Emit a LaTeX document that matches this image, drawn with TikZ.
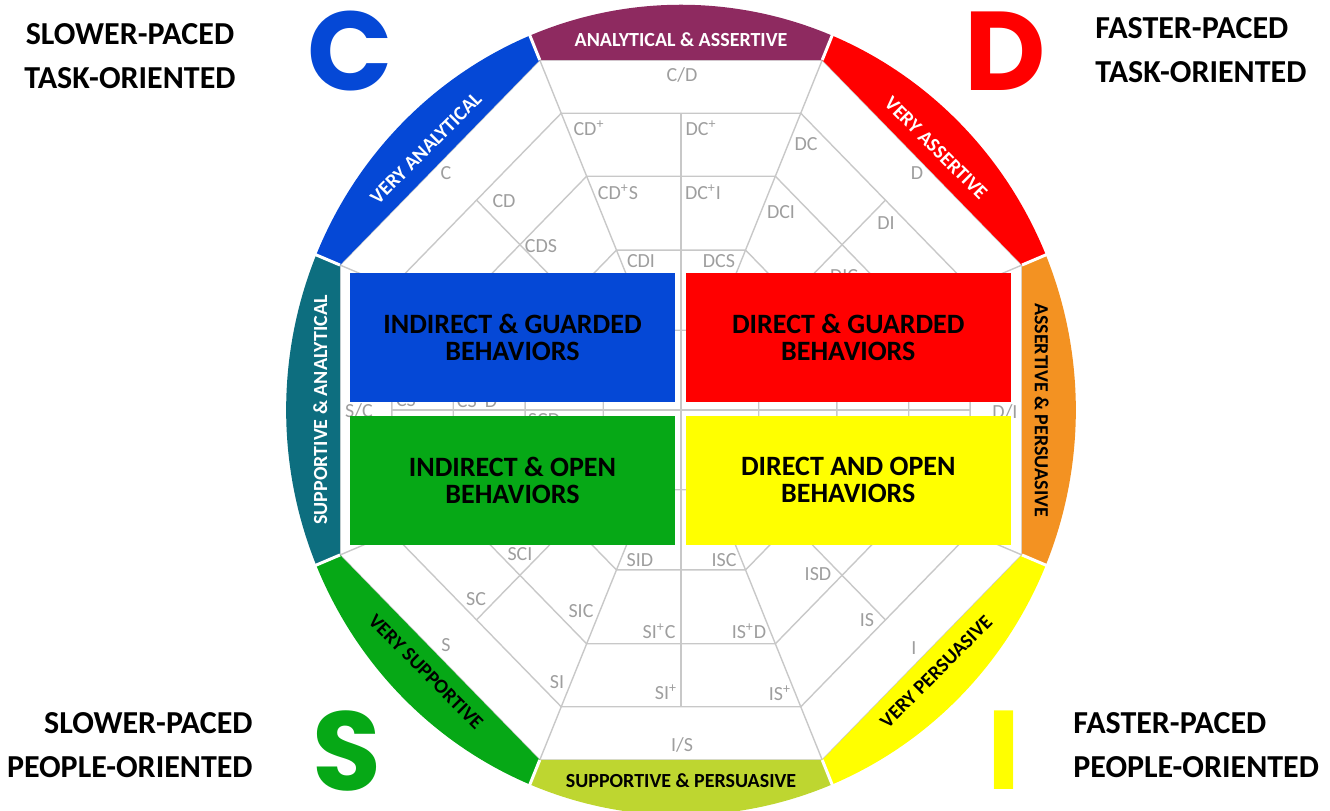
\documentclass[tikz,border=0pt]{standalone}
\usepackage{fontspec}
\setmainfont{Carlito}
\newfontfamily\letterfont{Poppins}
\usetikzlibrary{positioning}

\definecolor{cBlue}{RGB}{5,72,214}
\definecolor{dRed}{RGB}{255,0,0}
\definecolor{sGreen}{RGB}{6,168,22}
\definecolor{iYellow}{RGB}{255,255,0}
\definecolor{cdPurple}{RGB}{142,42,96}
\definecolor{scTeal}{RGB}{13,110,127}
\definecolor{diOrange}{RGB}{243,146,34}
\definecolor{isLime}{RGB}{190,214,48}
\definecolor{webGray}{RGB}{200,200,200}
\definecolor{tagGray}{RGB}{158,158,158}

\tikzset{
  webline/.style={draw=webGray, line width=0.7pt},
  tag/.style={text=tagGray, font=\fontsize{10}{12}\selectfont, inner sep=0},
  bandtext/.style={font=\bfseries\fontsize{10}{12}\selectfont, inner sep=0},
  quad/.style={minimum width=162.5pt, minimum height=64.5pt, inner sep=0, align=center,
    font=\bfseries\fontsize{14}{13.5}\selectfont},
  bigletter/.style={font=\letterfont\bfseries\fontsize{56}{60}\selectfont, inner sep=0},
  corner/.style={font=\bfseries\fontsize{16}{22}\selectfont, inner sep=0}
}

\begin{document}
\begin{tikzpicture}[x=0.5pt, y=-0.5pt]
\useasboundingbox (0,0) rectangle (1330,810);

% the wheel: web of octagons, then the coloured rim
\begin{scope}[shift={(681,410)}, xscale=341, yscale=-350]
 \foreach \a in {1,0.848,0.668,0.457,0.228}
  \draw[webline] (22.5:{1.0824*\a}) \foreach \t in {67.5,112.5,...,337.5} { -- (\t:{1.0824*\a}) } -- cycle;
 \foreach \t in {22.5,67.5,...,337.5} \draw[webline] (\t:1.0824) -- (\t:{1.0824*0.228});
 \foreach \t in {45,135,225,315} \draw[webline] (\t:0.848) -- (\t:0.228);
 \draw[webline] (90:0.848) -- (270:0.848);
 \draw[webline] (0:0.848) -- (180:0.848);

 \foreach \ang/\col/\ink/\rot/\txt in {90/cdPurple/white/0/ANALYTICAL \& ASSERTIVE,
   45/dRed/white/-45/VERY ASSERTIVE, 0/diOrange/black/-90/ASSERTIVE \& PERSUASIVE,
   315/iYellow/black/45/VERY PERSUASIVE, 270/isLime/black/0/SUPPORTIVE \& PERSUASIVE,
   225/sGreen/black/-45/VERY SUPPORTIVE, 180/scTeal/white/90/SUPPORTIVE \& ANALYTICAL,
   135/cBlue/white/45/VERY ANALYTICAL}
 {
  \fill[\col] ({\ang-22.5}:1.0824) -- ({\ang+22.5}:1.0824) -- ({\ang+22.5}:1.158)
    arc[start angle=\ang+22.5, end angle=\ang-22.5, radius=1.158] -- cycle;
  \node[bandtext, text=\ink, rotate=\rot] (band\ang) at (\ang:1.058) {\txt};
 }
 \foreach \t in {22.5,67.5,...,337.5} \draw[white, line width=1.5pt] (\t:1.0824) -- (\t:1.2);
\end{scope}

% blend labels
\node[tag] (cd) at (682,75) {C/D};
\node[tag] (cdp) at (589,128) {CD\textsuperscript{+}};
\node[tag] (dcp) at (701,128) {DC\textsuperscript{+}};
\node[tag] (cdps) at (618,192) {CD\textsuperscript{+}S};
\node[tag] (dcpi) at (703,192) {DC\textsuperscript{+}I};
\node[tag] (cdi) at (641,261) {CDI};
\node[tag] (dcs) at (719,261) {DCS};
\node[tag] (c) at (446,173) {C};
\node[tag] (cdc) at (504,201) {CD};
\node[tag] (cds) at (541,246) {CDS};
\node[tag] (d) at (917,173) {D};
\node[tag] (dc) at (806,144) {DC};
\node[tag] (dci) at (781,212) {DCI};
\node[tag] (di) at (886,223) {DI};
\node[tag] (dic) at (844,276) {DIC};
\node[tag] (sc) at (359,411) {S/C};
\node[tag] (cs) at (406,400) {CS};
\node[tag] (cspd) at (477,400) {CS\textsuperscript{+}D};
\node[tag] (scd) at (544,420) {SCD};
\node[tag] (dslashi) at (1005,412) {D/I};
\node[tag] (s) at (446,645) {S};
\node[tag] (scc) at (476,599) {SC};
\node[tag] (sci) at (520,554) {SCI};
\node[tag] (sic) at (581,611) {SIC};
\node[tag] (si) at (557,682) {SI};
\node[tag] (sid) at (640,560) {SID};
\node[tag] (sipc) at (659,631) {SI\textsuperscript{+}C};
\node[tag] (sip) at (666,692) {SI\textsuperscript{+}};
\node[tag] (is) at (682,745) {I/S};
\node[tag] (isc) at (724,560) {ISC};
\node[tag] (ispd) at (749,631) {IS\textsuperscript{+}D};
\node[tag] (isp) at (780,693) {IS\textsuperscript{+}};
\node[tag] (isd) at (818,574) {ISD};
\node[tag] (iss) at (867,620) {IS};
\node[tag] (i) at (914,648) {I};

% the four quadrants
\node[quad, fill=cBlue] (cquad) at (512.5,337.5) {INDIRECT \& GUARDED\\BEHAVIORS};
\node[quad, fill=dRed, right=5pt of cquad] (dquad) {DIRECT \& GUARDED\\BEHAVIORS};
\node[quad, fill=sGreen, below=6.5pt of cquad] (squad) {INDIRECT \& OPEN\\BEHAVIORS};
\node[quad, fill=iYellow, right=5pt of squad] (iquad) {DIRECT AND OPEN\\BEHAVIORS};

% corner letters and captions
\node[bigletter, text=cBlue] (bigC) at (350,51) {C};
\node[bigletter, text=dRed] (bigD) at (1005,51) {D};
\node[bigletter, text=sGreen] (bigS) at (347,751) {S};
\node[bigletter, text=iYellow] (bigI) at (1004,750) {I};

\node[corner, align=center] (tl) at (130,56) {SLOWER-PACED\\TASK-ORIENTED};
\node[corner, align=left, anchor=west] (tr) at (1095,50) {FASTER-PACED\\TASK-ORIENTED};
\node[corner, align=right, anchor=east] (bl) at (253,745) {SLOWER-PACED\\PEOPLE-ORIENTED};
\node[corner, align=left, anchor=west] (br) at (1073,745) {FASTER-PACED\\PEOPLE-ORIENTED};
\end{tikzpicture}
\end{document}
